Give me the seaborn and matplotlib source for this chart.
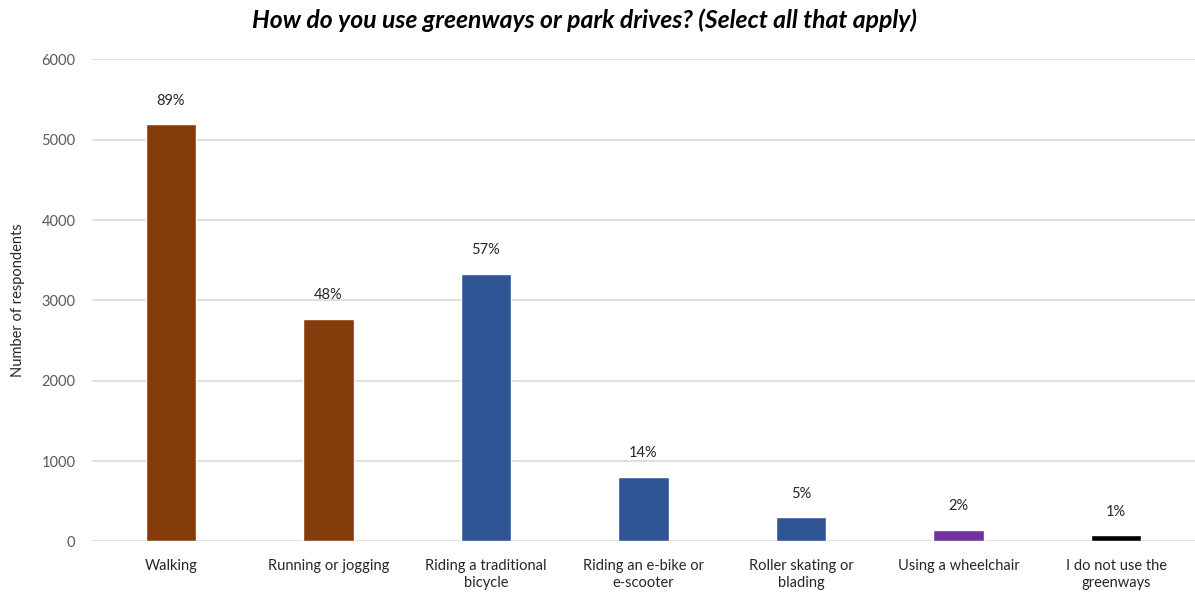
import matplotlib
matplotlib.use("Agg")
import matplotlib.pyplot as plt
import seaborn as sns
import pandas as pd

categories = ["Walking", "Running or jogging", "Riding a traditional\nbicycle",
              "Riding an e-bike or\ne-scooter", "Roller skating or\nblading",
              "Using a wheelchair", "I do not use the\ngreenways"]
counts = [5190, 2770, 3330, 800, 300, 140, 77]
percents = ["89%", "48%", "57%", "14%", "5%", "2%", "1%"]
colors = ["#843C0C", "#843C0C", "#2F5597", "#2F5597", "#2F5597", "#7030A0", "#000000"]
yticks = [0, 1000, 2000, 3000, 4000, 5000, 6000]

sns.set_theme(style="white")
plt.rcParams['font.family'] = ['Lato', 'DejaVu Sans']

df = pd.DataFrame({"cat": categories, "n": counts})

fig = plt.figure(figsize=(11.95, 5.93), dpi=100)
ax = fig.add_axes([0.077, 0.087, 0.923, 0.813])
sns.barplot(data=df, x="cat", y="n", hue="cat", palette=colors, legend=False,
            width=0.32, ax=ax, saturation=1)

ax.set_ylim(0, 6000)
ax.set_xlim(-0.5, len(categories) - 0.5)
ax.set_yticks(yticks)
ax.set_yticklabels([str(t) for t in yticks], color="#595959", fontsize=10.5)
ax.yaxis.grid(True, color="#D9D9D9", linewidth=1.2)
ax.set_axisbelow(True)
for s in ax.spines.values():
    s.set_visible(False)
ax.tick_params(axis="both", length=0)
ax.tick_params(axis="y", pad=12)
ax.tick_params(axis="x", pad=13)
ax.set_xticks(range(len(categories)))
ax.set_xticklabels(categories, fontsize=10.5, color="#262626", linespacing=1.25)
ax.set_xlabel("")
ax.set_ylabel("Number of respondents", fontsize=10.5, color="#262626", labelpad=12)

for i, (c, p) in enumerate(zip(counts, percents)):
    ax.annotate(p, (i, c), xytext=(0, 12), textcoords="offset points",
                ha="center", va="bottom", fontsize=10.5, color="#262626")

fig.suptitle("How do you use greenways or park drives? (Select all that apply)",
             x=0.489, y=0.985, fontsize=17.8, fontweight="bold", fontstyle="italic",
             color="#000000")

fig.savefig("out.png", dpi=100)
